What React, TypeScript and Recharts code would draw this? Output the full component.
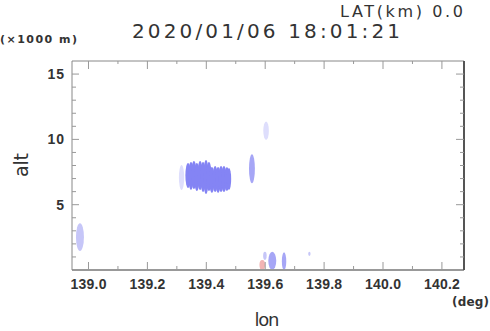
import React from 'react';
import {
  ScatterChart,
  Scatter,
  XAxis,
  YAxis,
  ReferenceArea,
} from 'recharts';

// echo cells: centre lon (deg), width (deg), altitude range (km), intensity level
const echoLon = [
  138.971, 139.316,
  139.338, 139.348, 139.358, 139.368, 139.379, 139.389, 139.399, 139.409,
  139.419, 139.430, 139.440, 139.450, 139.460, 139.470, 139.477,
  139.603, 139.555, 139.590, 139.599, 139.624, 139.664, 139.750,
];
const echoWidth = [
  0.027, 0.018,
  0.018, 0.018, 0.018, 0.018, 0.018, 0.018, 0.018, 0.018,
  0.018, 0.018, 0.018, 0.018, 0.018, 0.018, 0.015,
  0.019, 0.020, 0.019, 0.012, 0.027, 0.015, 0.008,
];
const echoAltLow = [
  1.45, 6.13,
  6.28, 6.13, 6.20, 6.05, 6.13, 5.97, 5.82, 6.05,
  5.90, 5.97, 5.90, 5.97, 5.97, 6.05, 6.13,
  9.95, 6.64, 0.0, 0.77, 0.0, 0.0, 1.07,
];
const echoAltHigh = [
  3.58, 8.04,
  8.19, 8.27, 8.35, 8.19, 8.35, 8.27, 8.42, 8.27,
  7.89, 7.96, 7.89, 7.96, 7.96, 7.89, 7.81,
  11.36, 8.86, 0.77, 1.40, 1.40, 1.35, 1.40,
];
const echoLevel = [
  1, 0,
  3, 3, 3, 3, 3, 3, 3, 3,
  3, 3, 3, 3, 3, 3, 3,
  0, 2, 4, 1, 2, 2, 1,
];

const lonTicks = [139.0, 139.1, 139.2, 139.3, 139.4, 139.5, 139.6, 139.7, 139.8, 139.9, 140.0, 140.1, 140.2];
const altTicks = [1, 2, 3, 4, 5, 6, 7, 8, 9, 10, 11, 12, 13, 14, 15];
const lonDomain = [138.944, 140.275];
const altDomain = [0, 16];

const levelColors = ['#dedefc', '#c6c6f8', '#a6a6f6', '#8484f4', '#f2b4b4'];

const echoes = echoLon.map((lon, i) => ({
  lon,
  alt: (echoAltLow[i] + echoAltHigh[i]) / 2,
  x1: lon - echoWidth[i] / 2,
  x2: lon + echoWidth[i] / 2,
  y1: echoAltLow[i],
  y2: echoAltHigh[i],
  color: levelColors[echoLevel[i]],
}));

const tickFont = { fontFamily: 'Liberation Sans, Arial, sans-serif', fontWeight: 'bold' as const, fill: '#333' };
const isMajorLon = (v: number) => Math.round(v * 10) % 2 === 0;
const isMajorAlt = (v: number) => v % 5 === 0;

const BottomTick = (props: any) => {
  const { x, y, payload } = props;
  const major = isMajorLon(payload.value);
  return (
    <g>
      <line x1={x} y1={y} x2={x} y2={y - (major ? 8 : 4)} stroke="#999" />
      {major && (
        <text x={x} y={y + 19} textAnchor="middle" fontSize={14} textLength={36} {...tickFont}>
          {payload.value.toFixed(1)}
        </text>
      )}
    </g>
  );
};

const TopTick = (props: any) => {
  const { x, y, payload } = props;
  const major = isMajorLon(payload.value);
  return <line x1={x} y1={y} x2={x} y2={y + (major ? 8 : 3)} stroke="#999" />;
};

const LeftTick = (props: any) => {
  const { x, y, payload } = props;
  const major = isMajorAlt(payload.value);
  const label = String(payload.value);
  return (
    <g>
      <line x1={x} y1={y} x2={x + (major ? 7 : 4)} y2={y} stroke="#999" />
      {major && (
        <text x={x - 8} y={y + 5} textAnchor="end" fontSize={14} textLength={label.length * 8.3} {...tickFont}>
          {label}
        </text>
      )}
    </g>
  );
};

const RightTick = (props: any) => {
  const { x, y, payload } = props;
  const major = isMajorAlt(payload.value);
  return <line x1={x} y1={y} x2={x - (major ? 8 : 4)} y2={y} stroke="#999" />;
};

const ellipseShape = (color: string) => (p: any) => {
  const { x, y, width, height } = p;
  return (
    <ellipse
      cx={x + width / 2}
      cy={y + height / 2}
      rx={Math.abs(width) / 2}
      ry={Math.abs(height) / 2}
      fill={color}
    />
  );
};

const textStyle = { fontFamily: 'DejaVu Sans, sans-serif', fill: '#333' };

export default function App() {
  return (
    <div style={{ width: 490, height: 331, background: '#fff', position: 'relative' }}>
      <style>{'body{margin:0}'}</style>
      <ScatterChart width={490} height={331} margin={{ top: 60, right: 25, bottom: 60, left: 71 }}>
        <XAxis
          type="number"
          dataKey="lon"
          domain={lonDomain}
          allowDataOverflow
          ticks={lonTicks}
          interval={0}
          height={1}
          tickSize={0}
          tickMargin={0}
          tickLine={false}
          tick={<BottomTick />}
          axisLine={{ stroke: '#999', strokeWidth: 2 }}
        />
        <XAxis
          xAxisId="top"
          orientation="top"
          type="number"
          dataKey="lon"
          domain={lonDomain}
          allowDataOverflow
          ticks={lonTicks}
          interval={0}
          height={1}
          tickSize={0}
          tickMargin={0}
          tickLine={false}
          tick={<TopTick />}
          axisLine={{ stroke: '#888' }}
        />
        <YAxis
          type="number"
          dataKey="alt"
          domain={altDomain}
          allowDataOverflow
          ticks={altTicks}
          interval={0}
          width={1}
          tickSize={0}
          tickMargin={0}
          tickLine={false}
          tick={<LeftTick />}
          axisLine={{ stroke: '#888' }}
        />
        <YAxis
          yAxisId="right"
          orientation="right"
          type="number"
          dataKey="alt"
          domain={altDomain}
          allowDataOverflow
          ticks={altTicks}
          interval={0}
          width={1}
          tickSize={0}
          tickMargin={0}
          tickLine={false}
          tick={<RightTick />}
          axisLine={{ stroke: '#555', strokeWidth: 2 }}
        />
        {echoes.map((e, i) => (
          <ReferenceArea
            key={`echo-${i}`}
            x1={e.x1}
            x2={e.x2}
            y1={e.y1}
            y2={e.y2}
            ifOverflow="hidden"
            shape={ellipseShape(e.color)}
          />
        ))}
        <Scatter data={echoes} shape={() => <g />} isAnimationActive={false} />
        <text x={463} y={17} textAnchor="end" fontSize={16} textLength={123} {...textStyle}>LAT(km) 0.0</text>
        <text x={132} y={38} fontSize={20} textLength={268} {...textStyle}>2020/01/06 18:01:21</text>
        <text x={0} y={43} fontSize={11} fontWeight="bold" textLength={77} {...textStyle}>(×1000 m)</text>
        <text x={452} y={306} fontSize={12} fontWeight="bold" textLength={37} {...textStyle}>(deg)</text>
        <text x={267} y={326} textAnchor="middle" fontSize={18} textLength={25} {...textStyle}>lon</text>
        <text
          x={28}
          y={165}
          textAnchor="middle"
          fontSize={19}
          textLength={24}
          transform="rotate(-90 28 165)"
          {...textStyle}
        >
          alt
        </text>
      </ScatterChart>
    </div>
  );
}
